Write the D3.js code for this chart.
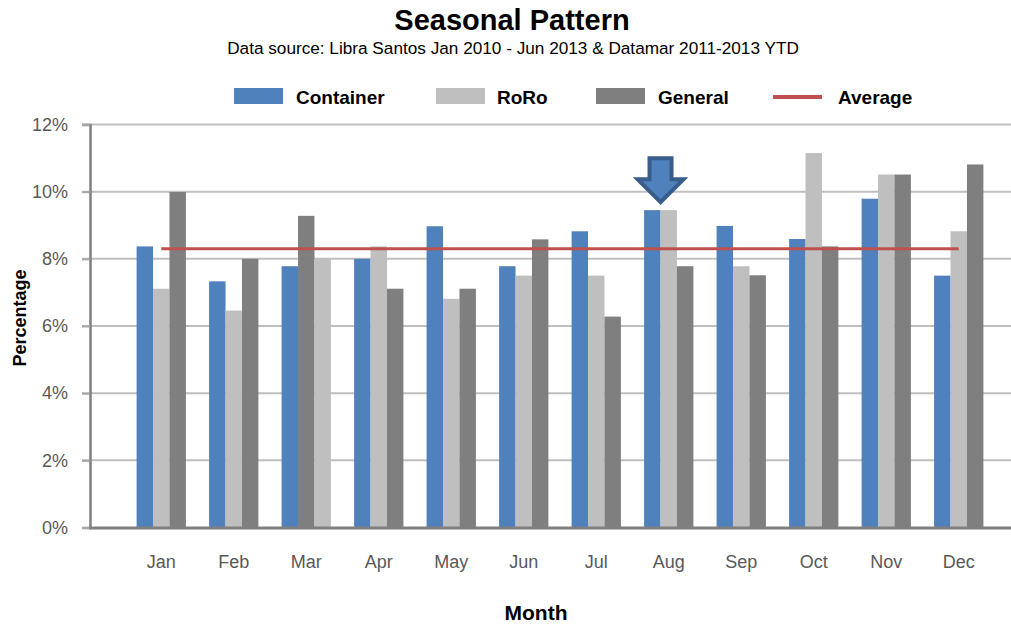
<!DOCTYPE html>
<html>
<head>
<meta charset="utf-8">
<script src="https://cdn.jsdelivr.net/npm/d3@7"></script>
<style>
  html, body { margin: 0; padding: 0; background: #fff; }
  svg { display: block; font-family: "Liberation Sans", Arial, sans-serif; }
</style>
</head>
<body>
<svg id="chart" width="1011" height="625"></svg>
<script>
// ---- data ----
const months = ["Jan","Feb","Mar","Apr","May","Jun","Jul","Aug","Sep","Oct","Nov","Dec"];
const seriesNames = ["Container","RoRo","General"];
const container = [8.37, 7.33, 7.78, 8.0, 8.97, 7.78, 8.82, 9.45, 8.98, 8.59, 9.79, 7.5];
const roro      = [7.11, 6.46, 8.0, 8.37, 6.81, 7.5, 7.5, 9.45, 7.78, 11.15, 10.51, 8.82];
const general   = [9.99, 8.0, 9.28, 7.11, 7.11, 8.58, 6.28, 7.78, 7.51, 8.37, 10.51, 10.81];
const average   = [8.3, 8.3, 8.3, 8.3, 8.3, 8.3, 8.3, 8.3, 8.3, 8.3, 8.3, 8.3];
// slot order of the three series inside each month group (Mar has General before RoRo in the source)
const slotOrder = [
  ["Container","RoRo","General"],["Container","RoRo","General"],["Container","General","RoRo"],
  ["Container","RoRo","General"],["Container","RoRo","General"],["Container","RoRo","General"],
  ["Container","RoRo","General"],["Container","RoRo","General"],["Container","RoRo","General"],
  ["Container","RoRo","General"],["Container","RoRo","General"],["Container","RoRo","General"]
];
const yTicks = [0, 2, 4, 6, 8, 10, 12];
const highlightMonth = "Aug";
const titleText = "Seasonal Pattern";
const subtitleText = "Data source: Libra Santos Jan 2010 - Jun 2013 & Datamar 2011-2013 YTD";

// ---- drawing ----
const colors = { Container: "#4F81BD", RoRo: "#BFBFBF", General: "#7F7F7F", Average: "#C0504D" };
const seriesValues = { Container: container, RoRo: roro, General: general };

const svg = d3.select("#chart");

const y = d3.scaleLinear().domain([0, 12]).range([527.5, 124.5]);
const x = d3.scaleBand().domain(months).range([125, 995]).paddingInner(0.32).paddingOuter(0.16);
const xs = d3.scaleBand().domain([0,1,2]).range([0, x.bandwidth()]);

// gridlines
svg.append("g").selectAll("line").data(yTicks.filter(t => t > 0)).join("line")
  .attr("x1", 82).attr("x2", 1011)
  .attr("y1", d => y(d)).attr("y2", d => y(d))
  .attr("stroke", "#BFBFBF").attr("stroke-width", 2);

// y axis
const yAxis = d3.axisLeft(y).tickValues(yTicks).tickFormat(d => d + "%").tickSize(8).tickPadding(14);
const gy = svg.append("g").attr("transform", "translate(90,0)").call(yAxis);
gy.select(".domain").attr("stroke", "#808080").attr("stroke-width", 2.5);
gy.selectAll(".tick line").attr("stroke", "#A6A6A6").attr("stroke-width", 2);
gy.selectAll(".tick text").attr("fill", "#595959").attr("font-size", 18)
  .attr("font-family", "Liberation Sans, Arial, sans-serif");

// bars
const groups = svg.append("g").selectAll("g").data(months).join("g")
  .attr("transform", d => `translate(${x(d)},0)`);
groups.selectAll("rect").data((m, i) => slotOrder[i].map((s, k) => ({ s, k, v: seriesValues[s][i] })))
  .join("rect")
  .attr("x", d => xs(d.k)).attr("width", xs.bandwidth())
  .attr("y", d => y(d.v)).attr("height", d => y(0) - y(d.v))
  .attr("fill", d => colors[d.s]);

// x axis
const xAxis = d3.axisBottom(x).tickSize(0).tickPadding(28);
const gx = svg.append("g").attr("transform", `translate(0,${y(0)})`).call(xAxis);
gx.select(".domain").remove();
gx.selectAll(".tick text").attr("fill", "#595959").attr("font-size", 18)
  .attr("font-family", "Liberation Sans, Arial, sans-serif");
svg.append("line").attr("x1", 89).attr("x2", 1011).attr("y1", y(0) + 0.5).attr("y2", y(0) + 0.5)
  .attr("stroke", "#808080").attr("stroke-width", 3);

// average line
const line = d3.line().x((d, i) => x(months[i]) + x.bandwidth() / 2).y(d => y(d));
svg.append("path").datum(average).attr("d", line)
  .attr("fill", "none").attr("stroke", colors.Average).attr("stroke-width", 3);

// arrow annotation
const hi = months.indexOf(highlightMonth);
const ax = x(highlightMonth) + xs.bandwidth();
const tipY = y(Math.max(container[hi], roro[hi], general[hi])) - 8;
const arrowPts = [[ax, tipY], [ax - 23, tipY - 23], [ax - 11, tipY - 23], [ax - 11, tipY - 44],
                  [ax + 11, tipY - 44], [ax + 11, tipY - 23], [ax + 23, tipY - 23]];
svg.append("path").attr("d", d3.line()(arrowPts) + "Z")
  .attr("fill", "#4F81BD").attr("stroke", "#385D8A").attr("stroke-width", 4).attr("stroke-linejoin", "miter");

// titles
svg.append("text").attr("x", 512).attr("y", 30).attr("text-anchor", "middle")
  .attr("font-size", 29).attr("font-weight", "bold").attr("fill", "#000").text(titleText);
svg.append("text").attr("x", 513).attr("y", 54).attr("text-anchor", "middle")
  .attr("font-size", 17.2).attr("fill", "#000").text(subtitleText);
svg.append("text").attr("x", 536).attr("y", 620).attr("text-anchor", "middle")
  .attr("font-size", 21).attr("font-weight", "bold").attr("fill", "#000").text("Month");
svg.append("text").attr("transform", "translate(26,318) rotate(-90)").attr("text-anchor", "middle")
  .attr("font-size", 18).attr("font-weight", "bold").attr("fill", "#000").text("Percentage");

// legend
const legendItems = [
  { name: "Container", sx: 234, tx: 296, type: "rect" },
  { name: "RoRo", sx: 436, tx: 497, type: "rect" },
  { name: "General", sx: 596, tx: 658, type: "rect" },
  { name: "Average", sx: 773, tx: 838, type: "line" }
];
const lg = svg.append("g");
legendItems.forEach(it => {
  if (it.type === "rect") {
    lg.append("rect").attr("x", it.sx).attr("y", 88).attr("width", 49).attr("height", 16)
      .attr("fill", colors[it.name]);
  } else {
    lg.append("line").attr("x1", it.sx).attr("x2", it.sx + 49).attr("y1", 97).attr("y2", 97)
      .attr("stroke", colors.Average).attr("stroke-width", 4);
  }
  lg.append("text").attr("x", it.tx).attr("y", 103.5).attr("font-size", 19).attr("font-weight", "bold")
    .attr("fill", "#000").text(it.name);
});
</script>
</body>
</html>
